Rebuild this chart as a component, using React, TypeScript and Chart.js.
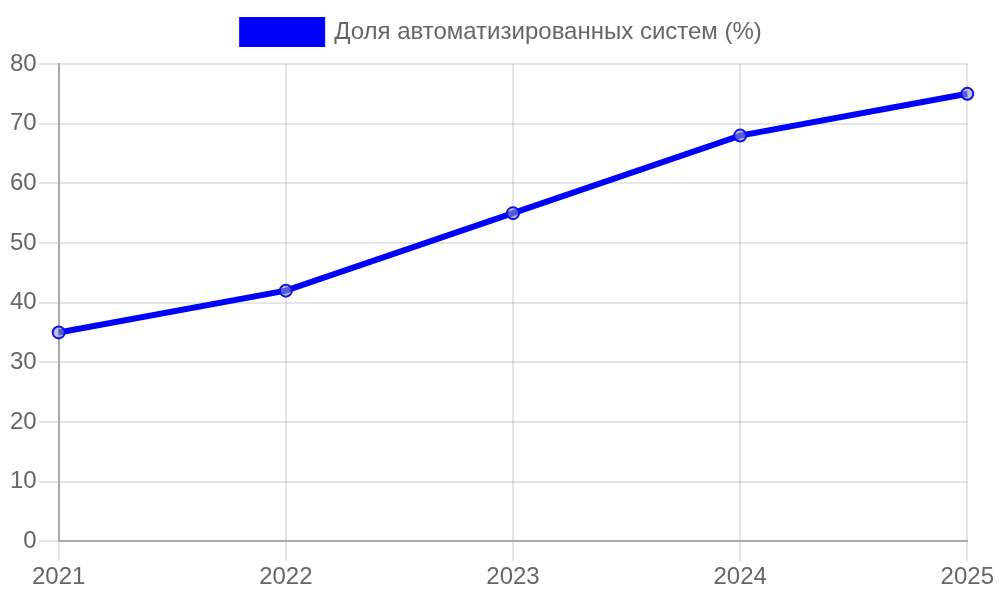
import { useEffect, useRef } from "react";
import { Chart, registerables } from "chart.js";
import type { Plugin } from "chart.js";

Chart.register(...registerables);

const years = ["2021", "2022", "2023", "2024", "2025"];
const automationShare = [35, 42, 55, 68, 75];
const seriesLabel = "Доля автоматизированных систем (%)";

// extra room under the legend
const legendGap: Plugin = {
	id: "legendGap",
	beforeInit(chart: any) {
		const legend = chart.legend;
		if (!legend) return;
		const fit = legend.fit;
		legend.fit = function () {
			fit.bind(legend)();
			this.height += 10;
		};
	},
};

export default function App() {
	const chartRef = useRef<HTMLCanvasElement>(null);
	const chartInstance = useRef<Chart | null>(null);

	useEffect(() => {
		if (!chartRef.current) return;

		if (chartInstance.current) {
			chartInstance.current.destroy();
		}

		const ctx = chartRef.current.getContext("2d");
		if (!ctx) return;

		chartInstance.current = new Chart(ctx, {
			type: "line",
			data: {
				labels: years,
				datasets: [
					{
						label: seriesLabel,
						data: automationShare,
						borderColor: "#0000ff",
						backgroundColor: "#0000ff",
						borderWidth: 6,
						pointRadius: 6,
						pointBorderWidth: 2,
						pointBorderColor: "#1010e0",
						pointBackgroundColor: "rgba(140, 150, 200, 0.6)",
						tension: 0,
					},
				],
			},
			options: {
				responsive: true,
				maintainAspectRatio: false,
				animation: false,
				font: { family: "'Liberation Sans', Arial, sans-serif", size: 24 },
				plugins: {
					legend: {
						display: true,
						labels: {
							boxWidth: 80,
							boxHeight: 24,
							padding: 12,
							color: "#666",
							font: { size: 24 },
						},
					},
					tooltip: { enabled: false },
				},
				scales: {
					x: {
						grid: {
							display: true,
							tickLength: 20,
							lineWidth: 2,
							color: "rgba(0, 0, 0, 0.1)",
						},
						border: { color: "#aaa", width: 2 },
						ticks: { color: "#666", padding: 2, font: { size: 24 } },
					},
					y: {
						min: 0,
						max: 80,
						beginAtZero: true,
						ticks: { stepSize: 10, color: "#666", padding: 2, font: { size: 24 } },
						grid: {
							display: true,
							tickLength: 20,
							lineWidth: 2,
							color: "rgba(0, 0, 0, 0.1)",
						},
						border: { color: "#aaa", width: 2 },
					},
				},
			},
			plugins: [legendGap],
		});

		return () => {
			if (chartInstance.current) {
				chartInstance.current.destroy();
				chartInstance.current = null;
			}
		};
	}, []);

	return (
		<div style={{ position: "fixed", left: "8px", top: "8px", width: "988px", height: "586px" }}>
			<canvas ref={chartRef} />
		</div>
	);
}
